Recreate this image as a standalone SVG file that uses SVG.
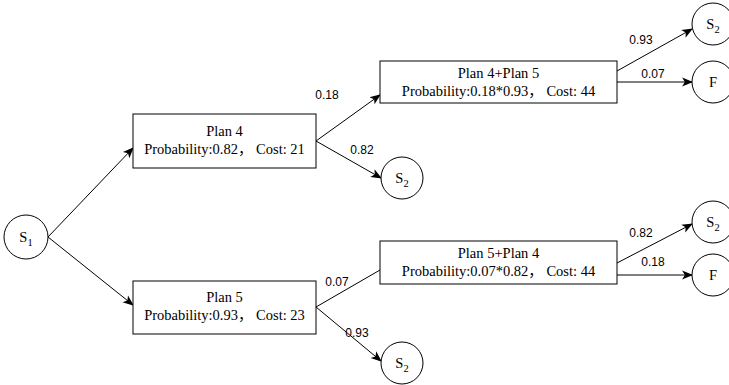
<svg xmlns="http://www.w3.org/2000/svg" width="729" height="385" viewBox="0 0 729 385">
<defs>
<style>
.box{fill:#fff;stroke:#000;stroke-width:1}
.node{fill:#fff;stroke:#000;stroke-width:1}
.t{font-family:'Liberation Serif','Times New Roman','DejaVu Serif',serif;font-size:14.5px;fill:#000;text-anchor:middle}
.cjk{font-family:'Noto Sans CJK SC',sans-serif}
.s{font-family:'Liberation Serif','Times New Roman',serif;font-size:14.5px;fill:#000;text-anchor:middle}
.sub{font-size:10.5px}
.lbl{font-family:'Liberation Sans',Arial,sans-serif;font-size:12px;fill:#000;text-anchor:middle}
.c{fill:none;stroke:#000;stroke-width:1}
.a{marker-end:url(#arr)}
</style>
<marker id="arr" viewBox="0 0 10 10" refX="9" refY="5" markerWidth="11" markerHeight="11" markerUnits="userSpaceOnUse" orient="auto">
<path d="M0,1 L10,5 L0,9 L2.5,5 Z" fill="#000"/>
</marker>
</defs>
<g id="connectors">
<line class="c a" x1="48" y1="237" x2="133" y2="148"/>
<line class="c a" x1="48" y1="237" x2="133" y2="305"/>
<line class="c a" x1="316" y1="141" x2="380" y2="95"/>
<line class="c a" x1="316" y1="141" x2="381" y2="178"/>
<line class="c" x1="316" y1="307" x2="380" y2="270"/>
<line class="c a" x1="316" y1="307" x2="381" y2="361"/>
<line class="c a" x1="617" y1="71" x2="692" y2="29"/>
<line class="c a" x1="617" y1="82" x2="692" y2="82"/>
<line class="c a" x1="617" y1="263" x2="692" y2="224"/>
<line class="c a" x1="617" y1="275" x2="692" y2="275"/>
<text class="lbl" x="327" y="99">0.18</text>
<text class="lbl" x="362" y="154">0.82</text>
<text class="lbl" x="337" y="286">0.07</text>
<text class="lbl" x="357" y="337">0.93</text>
<text class="lbl" x="641" y="44">0.93</text>
<text class="lbl" x="653" y="78">0.07</text>
<text class="lbl" x="641" y="237">0.82</text>
<text class="lbl" x="653" y="266">0.18</text>
</g>
<g id="s1">
<circle class="node" cx="26" cy="237" r="22"/>
<text class="s" x="26" y="242">S<tspan class="sub" dy="4">1</tspan></text>
</g>
<g id="plan4">
<rect class="box" x="133" y="114" width="183" height="54"/>
<text class="t" x="224.5" y="136">Plan 4</text>
<text class="t" x="224.5" y="154">Probability:0.82<tspan class="cjk">，</tspan> Cost: 21</text>
</g>
<g id="plan5">
<rect class="box" x="133" y="281" width="183" height="53"/>
<text class="t" x="224.5" y="302">Plan 5</text>
<text class="t" x="224.5" y="320">Probability:0.93<tspan class="cjk">，</tspan> Cost: 23</text>
</g>
<g id="plan45">
<rect class="box" x="380" y="61" width="237" height="42"/>
<text class="t" x="498.5" y="78">Plan 4+Plan 5</text>
<text class="t" x="498.5" y="96">Probability:0.18*0.93<tspan class="cjk">，</tspan> Cost: 44</text>
</g>
<g id="plan54">
<rect class="box" x="380" y="241" width="237" height="43"/>
<text class="t" x="498.5" y="258">Plan 5+Plan 4</text>
<text class="t" x="498.5" y="276">Probability:0.07*0.82<tspan class="cjk">，</tspan> Cost: 44</text>
</g>
<g id="s2a">
<circle class="node" cx="402" cy="178" r="21"/>
<text class="s" x="402" y="183">S<tspan class="sub" dy="4">2</tspan></text>
</g>
<g id="s2b">
<circle class="node" cx="402" cy="363" r="21"/>
<text class="s" x="402" y="368">S<tspan class="sub" dy="4">2</tspan></text>
</g>
<g id="s2c">
<circle class="node" cx="713" cy="24" r="21"/>
<text class="s" x="713" y="29">S<tspan class="sub" dy="4">2</tspan></text>
</g>
<g id="f1">
<circle class="node" cx="713" cy="82" r="21"/>
<text class="s" x="713" y="87">F</text>
</g>
<g id="s2d">
<circle class="node" cx="713" cy="222" r="21"/>
<text class="s" x="713" y="227">S<tspan class="sub" dy="4">2</tspan></text>
</g>
<g id="f2">
<circle class="node" cx="713" cy="275" r="21"/>
<text class="s" x="713" y="280">F</text>
</g>
</svg>
